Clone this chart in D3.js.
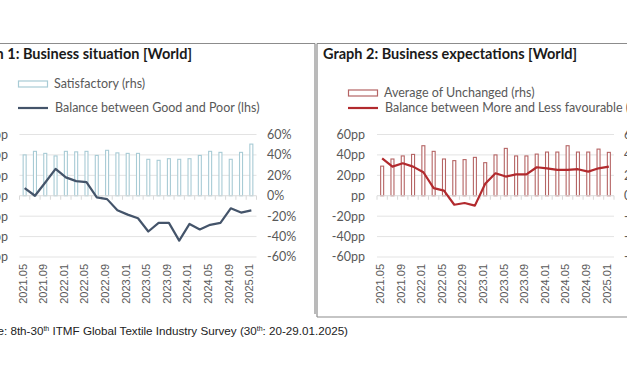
<!DOCTYPE html>
<html>
<head>
<meta charset="utf-8">
<script src="https://cdn.jsdelivr.net/npm/d3@7"></script>
<style>
  html, body { margin: 0; padding: 0; background: #fff; }
  svg { display: block; }
</style>
</head>
<body>
<div id="chart"></div>
<script>
// survey rounds (every ~2 months)
var periods = ['2021.05', '2021.07', '2021.09', '2021.11', '2022.01', '2022.03', '2022.05', '2022.07',
    '2022.09', '2022.11', '2023.01', '2023.03', '2023.05', '2023.07', '2023.09', '2023.11',
    '2024.01', '2024.03', '2024.05', '2024.07', '2024.09', '2024.11', '2025.01'];

// Graph 1
var satisfactory = [40, 43.5, 41.5, 39, 43.5, 43, 43.5, 39.5, 44.5, 42, 41.5, 41.5,
    35.7, 34.7, 36.3, 35.7, 36.3, 39.5, 43.5, 42.5, 35.7, 42.5, 50.6];
var balanceGoodPoor = [7.5, 0, 13, 26.3, 18, 14.3, 13.3, -1.6, -3.3, -14.3, -18.5, -22,
    -35, -26.6, -26.6, -44, -27.6, -33, -28.5, -26.6, -12.3, -16.5, -14.3];

// Graph 2
var avgUnchanged = [29, 36, 39, 40.5, 49, 43.5, 36, 34.4, 35.4, 37.6, 32.4, 40,
    46.4, 39, 39, 40.8, 42.8, 42.8, 49, 42.8, 42.8, 45.7, 42.5];
var balanceMoreLess = [36.6, 28.5, 31.8, 28.5, 23, 7.5, 5, -8.8, -7.1, -9.7, 11.7, 22,
    18.8, 21, 21, 27.9, 26.9, 25.3, 25.3, 26, 23.6, 26.9, 28.5];

var yTicks = [-60, -40, -20, 0, 20, 40, 60];
var lhsTickLabels = ['-60pp', '-40pp', '-20pp', 'pp', '20pp', '40pp', '60pp'];
var rhsTickLabels = ['-60%', '-40%', '-20%', '0%', '20%', '40%', '60%'];

var W = 627, H = 376,
    sansFont = 'Lato, "Open Sans", sans-serif',
    arialFont = '"Liberation Sans", Arial, sans-serif',
    labelColor = '#595959';

var svg = d3.select('#chart').append('svg')
    .attr('width', W)
    .attr('height', H)
    .style('background', '#fff');

var drawPanel = function (cfg) {
    var g = svg.append('g'),
        x = d3.scaleBand().domain(periods).range([cfg.x0, cfg.x1]),
        y = d3.scaleLinear().domain([-60, 60]).range([257, 134.5]);

    // frame
    g.selectAll('.frame')
        .data(cfg.frame)
        .enter().append('line')
        .attr('x1', function (d) { return d[0]; })
        .attr('y1', function (d) { return d[1]; })
        .attr('x2', function (d) { return d[2]; })
        .attr('y2', function (d) { return d[3]; })
        .style('stroke', '#8c8c8c')
        .style('stroke-width', 1.2);

    // title
    g.append('text')
        .attr('x', cfg.titleX)
        .attr('y', 58.5)
        .attr('text-anchor', cfg.titleAnchor)
        .style('font-family', sansFont)
        .style('font-weight', 'bold')
        .style('font-size', '14.5px')
        .style('fill', '#1a1a1a')
        .text(cfg.title);

    // legend
    var lg = g.append('g');
    lg.append('rect')
        .attr('x', cfg.legendX + 0.5)
        .attr('y', cfg.legendY1 - 3)
        .attr('width', 29)
        .attr('height', 6)
        .style('fill', '#fff')
        .style('stroke', cfg.barColor)
        .style('stroke-width', 1.2);
    lg.append('text')
        .attr('x', cfg.legendX + 36)
        .attr('y', cfg.legendY1)
        .attr('dy', '0.35em')
        .style('font-family', sansFont)
        .style('font-size', '12.5px')
        .style('fill', labelColor)
        .text(cfg.barName);
    lg.append('line')
        .attr('x1', cfg.legendX)
        .attr('x2', cfg.legendX + 30)
        .attr('y1', 108)
        .attr('y2', 108)
        .style('stroke', cfg.lineColor)
        .style('stroke-width', 2.2);
    lg.append('text')
        .attr('x', cfg.legendX + 37)
        .attr('y', 108)
        .attr('dy', '0.35em')
        .style('font-family', sansFont)
        .style('font-size', '12.5px')
        .style('fill', labelColor)
        .text(cfg.lineName);

    // gridlines
    g.selectAll('.grid')
        .data(yTicks.filter(function (d) { return d !== 0; }))
        .enter().append('line')
        .attr('class', 'grid')
        .attr('x1', cfg.x0)
        .attr('x2', cfg.x1)
        .attr('y1', function (d) { return y(d); })
        .attr('y2', function (d) { return y(d); })
        .style('stroke', '#e3e3e3')
        .style('stroke-width', 1);

    // left axis labels
    g.selectAll('.lhs')
        .data(yTicks)
        .enter().append('text')
        .attr('x', cfg.lhsX)
        .attr('y', function (d) { return y(d); })
        .attr('dy', '0.35em')
        .attr('text-anchor', 'end')
        .style('font-family', sansFont)
        .style('font-size', '12.5px')
        .style('fill', labelColor)
        .text(function (d, i) { return lhsTickLabels[i]; });

    // right axis labels
    g.selectAll('.rhs')
        .data(yTicks)
        .enter().append('text')
        .attr('x', cfg.rhsX)
        .attr('y', function (d) { return y(d); })
        .attr('dy', '0.35em')
        .style('font-family', sansFont)
        .style('font-size', '12.5px')
        .style('fill', labelColor)
        .text(function (d, i) { return rhsTickLabels[i]; });

    // bars (outline only)
    g.selectAll('.bar')
        .data(cfg.bars)
        .enter().append('rect')
        .attr('x', function (d, i) { return x(periods[i]) + x.bandwidth() / 2 - 1.5; })
        .attr('y', function (d) { return y(d); })
        .attr('width', 3)
        .attr('height', function (d) { return y(0) - y(d); })
        .style('fill', '#fff')
        .style('stroke', cfg.barColor)
        .style('stroke-width', 1.1);

    // category axis at zero with ticks between bands
    g.append('line')
        .attr('x1', cfg.x0)
        .attr('x2', cfg.x1)
        .attr('y1', y(0))
        .attr('y2', y(0))
        .style('stroke', '#d9d9d9');
    g.selectAll('.tick')
        .data(periods.concat(['end']))
        .enter().append('line')
        .attr('x1', function (d, i) { return cfg.x0 + i * x.step(); })
        .attr('x2', function (d, i) { return cfg.x0 + i * x.step(); })
        .attr('y1', y(0))
        .attr('y2', y(0) + 4)
        .style('stroke', '#d9d9d9');

    // category labels, every other round
    g.selectAll('.xlab')
        .data(periods.filter(function (d, i) { return i % 2 === 0; }))
        .enter().append('text')
        .attr('transform', function (d) {
            return 'translate(' + (x(d) + x.bandwidth() / 2 - 2) + ',264) rotate(-90)';
        })
        .attr('dy', '0.35em')
        .attr('text-anchor', 'end')
        .style('font-family', arialFont)
        .style('font-size', '11px')
        .style('fill', labelColor)
        .text(function (d) { return d; });

    // balance line
    var line = d3.line()
        .x(function (d, i) { return x(periods[i]) + x.bandwidth() / 2; })
        .y(function (d) { return y(d); });
    g.append('path')
        .datum(cfg.line)
        .attr('d', line)
        .style('fill', 'none')
        .style('stroke', cfg.lineColor)
        .style('stroke-width', 2.2)
        .style('stroke-linejoin', 'round');
};

drawPanel({
    x0: 19.5, x1: 256.5,
    lhsX: 8, rhsX: 267,
    frame: [[0, 43.5, 315, 43.5], [315, 43.5, 315, 314]],
    title: 'Graph 1: Business situation [World]', titleX: 192, titleAnchor: 'end',
    legendX: 18, legendY1: 84,
    barName: 'Satisfactory (rhs)', lineName: 'Balance between Good and Poor (lhs)',
    barColor: '#a8cbd5', lineColor: '#44546a',
    bars: satisfactory, line: balanceGoodPoor
});

drawPanel({
    x0: 377, x1: 614,
    lhsX: 365, rhsX: 624,
    frame: [[317, 43.5, 627, 43.5], [317, 43.5, 317, 317], [317, 317, 627, 317]],
    title: 'Graph 2: Business expectations [World]', titleX: 323, titleAnchor: 'start',
    legendX: 348, legendY1: 93,
    barName: 'Average of Unchanged (rhs)', lineName: 'Balance between More and Less favourable (lhs)',
    barColor: '#b56464', lineColor: '#b22a2e',
    bars: avgUnchanged, line: balanceMoreLess
});

// source note
var src = svg.append('text')
    .attr('x', 348)
    .attr('y', 335)
    .attr('text-anchor', 'end')
    .style('font-family', arialFont)
    .style('font-size', '11.65px')
    .style('fill', '#222');
src.append('tspan').text('Source: 8th-30');
src.append('tspan').attr('dy', -4).style('font-size', '7px').text('th');
src.append('tspan').attr('dy', 4).text(' ITMF Global Textile Industry Survey (30');
src.append('tspan').attr('dy', -4).style('font-size', '7px').text('th');
src.append('tspan').attr('dy', 4).text(': 20-29.01.2025)');
</script>
</body>
</html>
